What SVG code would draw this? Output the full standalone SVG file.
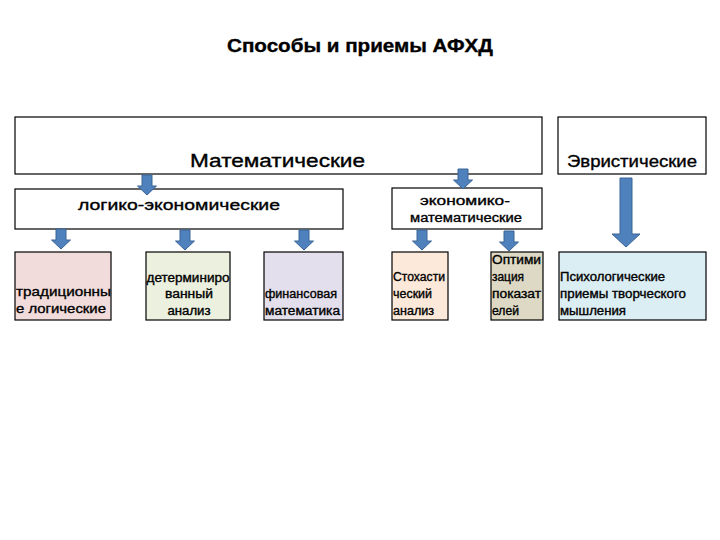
<svg xmlns="http://www.w3.org/2000/svg" width="720" height="540" viewBox="0 0 720 540">
<defs>
<style>
.box{stroke:#000;stroke-width:1.2}
.t{font-family:"Liberation Sans",Arial,sans-serif;fill:#000;stroke:#000;stroke-width:0.35}
.arr{fill:#4f81bd;stroke:#3a6496;stroke-width:1}
</style>
<path id="sa" d="M-5,0 H5 V11 H9.5 L0,20 L-9.5,11 H-5 Z"/>
</defs>
<rect width="720" height="540" fill="#fff"/>
<text class="t" x="360" y="52" font-size="19" font-weight="bold" stroke-width="0" text-anchor="middle" textLength="266" lengthAdjust="spacingAndGlyphs">Способы и приемы АФХД</text>

<g id="n-math"><rect class="box" x="15" y="117" width="527" height="57" fill="#fff"/><text class="t" x="190" y="167" font-size="18" textLength="175" lengthAdjust="spacingAndGlyphs">Математические</text></g>
<g id="n-heur"><rect class="box" x="558" y="117" width="148" height="57" fill="#fff"/><text class="t" x="567" y="167" font-size="16" textLength="130" lengthAdjust="spacingAndGlyphs">Эвристические</text></g>
<g id="n-logeco"><rect class="box" x="15" y="189" width="328" height="40" fill="#fff"/><text class="t" x="78" y="210" font-size="15" textLength="202" lengthAdjust="spacingAndGlyphs">логико-экономические</text></g>
<g id="n-ecomath"><rect class="box" x="392" y="188" width="150" height="41" fill="#fff"/><text class="t" x="465" y="205" font-size="12.5" text-anchor="middle" textLength="90" lengthAdjust="spacingAndGlyphs">экономико-</text><text class="t" x="466" y="222" font-size="12.5" text-anchor="middle" textLength="112" lengthAdjust="spacingAndGlyphs">математические</text></g>

<g id="n-trad"><rect class="box" x="15" y="252" width="96" height="68" fill="#f2dcdb"/><text class="t" x="16" y="296" font-size="13" textLength="95" lengthAdjust="spacingAndGlyphs">традиционны</text><text class="t" x="16" y="313" font-size="13" textLength="90" lengthAdjust="spacingAndGlyphs">е логические</text></g>
<g id="n-det"><rect class="box" x="146" y="252" width="84" height="68" fill="#ebf1de"/><text class="t" x="188" y="282" font-size="12" text-anchor="middle" textLength="83" lengthAdjust="spacingAndGlyphs">детерминиро</text><text class="t" x="189" y="298" font-size="12" text-anchor="middle" textLength="48" lengthAdjust="spacingAndGlyphs">ванный</text><text class="t" x="189" y="315" font-size="12" text-anchor="middle" textLength="43" lengthAdjust="spacingAndGlyphs">анализ</text></g>
<g id="n-fin"><rect class="box" x="264" y="252" width="79" height="68" fill="#e4dfec"/><text class="t" x="265" y="298" font-size="12" textLength="72" lengthAdjust="spacingAndGlyphs">финансовая</text><text class="t" x="265" y="315" font-size="12" textLength="75" lengthAdjust="spacingAndGlyphs">математика</text></g>
<g id="n-stoch"><rect class="box" x="392" y="252" width="56" height="68" fill="#fde9d9"/><text class="t" x="393" y="281" font-size="12" textLength="52" lengthAdjust="spacingAndGlyphs">Стохасти</text><text class="t" x="393" y="298" font-size="12" textLength="39" lengthAdjust="spacingAndGlyphs">ческий</text><text class="t" x="393" y="315" font-size="12" textLength="41" lengthAdjust="spacingAndGlyphs">анализ</text></g>
<g id="n-opt"><rect class="box" x="491" y="252" width="52" height="68" fill="#ddd9c4"/><text class="t" x="492" y="264" font-size="12" textLength="49" lengthAdjust="spacingAndGlyphs">Оптими</text><text class="t" x="492" y="281" font-size="12" textLength="32" lengthAdjust="spacingAndGlyphs">зация</text><text class="t" x="492" y="298" font-size="12" textLength="49" lengthAdjust="spacingAndGlyphs">показат</text><text class="t" x="492" y="315" font-size="12" textLength="27" lengthAdjust="spacingAndGlyphs">елей</text></g>
<g id="n-psy"><rect class="box" x="559" y="252" width="147" height="68" fill="#dbeef4"/><text class="t" x="560" y="281" font-size="12" textLength="105" lengthAdjust="spacingAndGlyphs">Психологические</text><text class="t" x="560" y="298" font-size="12" textLength="126" lengthAdjust="spacingAndGlyphs">приемы творческого</text><text class="t" x="560" y="315" font-size="12" textLength="66" lengthAdjust="spacingAndGlyphs">мышления</text></g>

<g id="connectors">
<use href="#sa" class="arr" transform="translate(147,175)"/>
<use href="#sa" class="arr" transform="translate(463,169)"/>
<use href="#sa" class="arr" transform="translate(61,229)"/>
<use href="#sa" class="arr" transform="translate(185,230)"/>
<use href="#sa" class="arr" transform="translate(304,230)"/>
<use href="#sa" class="arr" transform="translate(422,230)"/>
<use href="#sa" class="arr" transform="translate(509,231)"/>
<path class="arr" d="M620,178 H632 V234 H640 L626,247 L612,234 H620 Z"/>
</g>
</svg>
